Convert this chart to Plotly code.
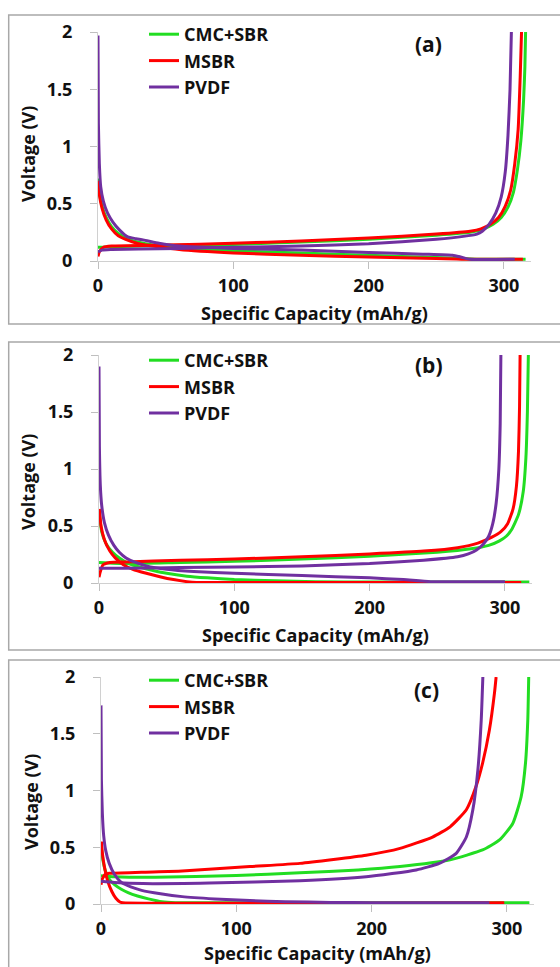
import plotly.graph_objects as go

# ---------------- DATA ----------------
series_names = ["CMC+SBR", "MSBR", "PVDF"]
series_colors = ["#22dd22", "#ff0000", "#7030a0"]
panel_labels = ["(a)", "(b)", "(c)"]
x_title = "Specific Capacity (mAh/g)"
y_title = "Voltage (V)"
x_ticks = [0, 100, 200, 300]
y_ticks = [0, 0.5, 1, 1.5, 2]
y_ticktext = ["0", "0.5", "1", "1.5", "2"]

# Panel (a)
a_cmc_dis_cap = [0.3, 1, 3, 6, 10, 15, 22, 35, 60, 100, 150, 200, 250, 270, 280, 290, 316]
a_cmc_dis_v = [0.72, 0.6, 0.48, 0.38, 0.3, 0.24, 0.19, 0.15, 0.115, 0.09, 0.07, 0.05, 0.03, 0.02, 0.015, 0.015, 0.015]
a_cmc_ch_cap = [0, 3, 10, 50, 100, 150, 200, 250, 275, 285, 292, 298, 303, 307, 310, 312.5, 314.5, 315.5, 316]
a_cmc_ch_v = [0.12, 0.12, 0.125, 0.135, 0.145, 0.165, 0.19, 0.225, 0.25, 0.28, 0.32, 0.38, 0.47, 0.6, 0.8, 1.05, 1.4, 1.7, 2.0]

a_msbr_dis_cap = [0.3, 1, 3, 6, 10, 15, 20, 30, 60, 100, 150, 200, 250, 265, 272, 314]
a_msbr_dis_v = [0.7, 0.58, 0.46, 0.36, 0.28, 0.22, 0.19, 0.15, 0.1, 0.07, 0.05, 0.035, 0.022, 0.017, 0.015, 0.015]
a_msbr_ch_cap = [0, 1, 4, 10, 50, 100, 150, 200, 250, 275, 283, 290, 296, 301, 305, 308, 310.5, 312, 313]
a_msbr_ch_v = [0.04, 0.08, 0.12, 0.13, 0.14, 0.155, 0.175, 0.2, 0.235, 0.26, 0.28, 0.32, 0.38, 0.48, 0.62, 0.85, 1.15, 1.6, 2.0]

a_pvdf_dis_cap = [0, 0.3, 1, 2, 4, 7, 11, 16, 22, 28, 35, 45, 60, 100, 150, 200, 240, 262, 268, 275, 308]
a_pvdf_dis_v = [1.97, 1.2, 0.85, 0.65, 0.52, 0.42, 0.34, 0.27, 0.21, 0.195, 0.18, 0.155, 0.13, 0.11, 0.095, 0.075, 0.06, 0.05, 0.035, 0.015, 0.015]
a_pvdf_ch_cap = [0, 3, 10, 30, 60, 100, 150, 200, 250, 270, 280, 284, 289, 294, 298, 301, 303, 304.5, 305.5]
a_pvdf_ch_v = [0.08, 0.095, 0.1, 0.105, 0.11, 0.12, 0.13, 0.15, 0.19, 0.215, 0.235, 0.26, 0.32, 0.42, 0.56, 0.78, 1.1, 1.5, 2.0]

# Panel (b)
b_cmc_dis_cap = [0.3, 2, 5, 10, 15, 22, 30, 40, 50, 65, 80, 100, 130, 160, 200, 318]
b_cmc_dis_v = [0.6, 0.45, 0.35, 0.27, 0.22, 0.17, 0.14, 0.11, 0.085, 0.06, 0.045, 0.03, 0.02, 0.012, 0.008, 0.008]
b_cmc_ch_cap = [0, 20, 60, 100, 150, 200, 250, 275, 288, 296, 301, 305, 310, 313.5, 315.5, 316.6, 317.3]
b_cmc_ch_v = [0.18, 0.17, 0.18, 0.19, 0.21, 0.235, 0.27, 0.3, 0.33, 0.37, 0.41, 0.47, 0.6, 0.8, 1.1, 1.5, 2.0]

b_msbr_dis_cap = [0.3, 1.5, 4, 8, 12, 18, 25, 35, 45, 55, 65, 72, 312]
b_msbr_dis_v = [0.65, 0.5, 0.38, 0.28, 0.22, 0.16, 0.12, 0.085, 0.055, 0.03, 0.012, 0.005, 0.005]
b_msbr_ch_cap = [0, 1, 3, 8, 20, 60, 100, 150, 200, 240, 265, 280, 290, 297, 302, 306, 308.5, 310, 310.8, 311.2]
b_msbr_ch_v = [0.05, 0.1, 0.16, 0.18, 0.185, 0.2, 0.21, 0.23, 0.255, 0.28, 0.31, 0.35, 0.4, 0.45, 0.52, 0.65, 0.85, 1.15, 1.55, 2.0]

b_pvdf_dis_cap = [0, 0.3, 1, 2, 4, 7, 11, 15, 20, 27, 35, 50, 70, 100, 150, 200, 225, 245, 300]
b_pvdf_dis_v = [1.9, 1.2, 0.85, 0.68, 0.53, 0.42, 0.33, 0.27, 0.22, 0.18, 0.15, 0.12, 0.1, 0.085, 0.065, 0.045, 0.03, 0.012, 0.012]
b_pvdf_ch_cap = [0, 20, 60, 100, 150, 200, 240, 265, 273, 279, 284, 288, 291, 293.5, 295.5, 296.5, 297]
b_pvdf_ch_v = [0.13, 0.13, 0.135, 0.14, 0.15, 0.17, 0.2, 0.23, 0.255, 0.29, 0.34, 0.41, 0.52, 0.7, 1.0, 1.4, 2.0]

# Panel (c)
c_cmc_dis_cap = [0.3, 1.5, 3, 6, 10, 15, 20, 27, 35, 45, 55, 316.6]
c_cmc_dis_v = [0.5, 0.38, 0.3, 0.22, 0.17, 0.13, 0.1, 0.07, 0.045, 0.02, 0.012, 0.012]
c_cmc_ch_cap = [0, 10, 40, 100, 147, 190, 221, 258, 282, 294.5, 304.3, 310.5, 313.7, 315.4, 316.1]
c_cmc_ch_v = [0.25, 0.24, 0.235, 0.25, 0.275, 0.3, 0.33, 0.39, 0.476, 0.564, 0.71, 0.945, 1.24, 1.62, 2.0]

c_msbr_dis_cap = [0.3, 1, 2.5, 5, 8, 11, 14, 16, 298]
c_msbr_dis_v = [0.55, 0.45, 0.33, 0.2, 0.11, 0.05, 0.018, 0.012, 0.012]
c_msbr_ch_cap = [0, 1, 3, 6, 30, 60, 110, 147, 196, 221, 245, 258, 270, 277, 282, 287, 290.8, 292]
c_msbr_ch_v = [0.17, 0.22, 0.26, 0.27, 0.28, 0.29, 0.33, 0.358, 0.43, 0.49, 0.59, 0.68, 0.83, 1.03, 1.24, 1.53, 1.86, 2.0]

c_pvdf_dis_cap = [0, 0.3, 1, 2, 3.5, 6, 10, 15, 22, 30, 44, 60, 84, 110, 136, 170, 200, 287]
c_pvdf_dis_v = [1.75, 1.1, 0.8, 0.6, 0.47, 0.36, 0.26, 0.19, 0.15, 0.12, 0.09, 0.065, 0.045, 0.03, 0.02, 0.014, 0.012, 0.012]
c_pvdf_ch_cap = [0, 10, 31, 80, 147, 196, 233, 250, 262.5, 270, 274.8, 278.5, 281, 282.2]
c_pvdf_ch_v = [0.2, 0.19, 0.18, 0.185, 0.205, 0.24, 0.3, 0.358, 0.446, 0.59, 0.83, 1.18, 1.62, 2.0]

panels = [
    [(a_cmc_dis_cap, a_cmc_dis_v, a_cmc_ch_cap, a_cmc_ch_v),
     (a_msbr_dis_cap, a_msbr_dis_v, a_msbr_ch_cap, a_msbr_ch_v),
     (a_pvdf_dis_cap, a_pvdf_dis_v, a_pvdf_ch_cap, a_pvdf_ch_v)],
    [(b_cmc_dis_cap, b_cmc_dis_v, b_cmc_ch_cap, b_cmc_ch_v),
     (b_msbr_dis_cap, b_msbr_dis_v, b_msbr_ch_cap, b_msbr_ch_v),
     (b_pvdf_dis_cap, b_pvdf_dis_v, b_pvdf_ch_cap, b_pvdf_ch_v)],
    [(c_cmc_dis_cap, c_cmc_dis_v, c_cmc_ch_cap, c_cmc_ch_v),
     (c_msbr_dis_cap, c_msbr_dis_v, c_msbr_ch_cap, c_msbr_ch_v),
     (c_pvdf_dis_cap, c_pvdf_dis_v, c_pvdf_ch_cap, c_pvdf_ch_v)],
]

# ---------------- LAYOUT GEOMETRY (page pixels) ----------------
W, H = 560, 967
FONT = "Open Sans"
TXT = "#111111"


def px(x):
    return x / W


def py(y):
    return 1 - y / H


x_domains = [[98, 531], [99, 532], [101, 534]]
y_domains = [[261, 32], [583, 355], [904, 677]]
box_tops = [15, 342, 660]
box_bottoms = [324, 650, 1000]
legend_tops = [16, 342, 662]
label_pos = [(428, 44), (429, 365), (426, 690)]
xtitle_pos = [(314, 313), (315, 635), (317, 953)]
ytitle_pos = [(28, 154), (28, 482), (31, 802)]

fig = go.Figure()

for p, series in enumerate(panels):
    xa = "x" if p == 0 else f"x{p + 1}"
    ya = "y" if p == 0 else f"y{p + 1}"
    lg = "legend" if p == 0 else f"legend{p + 1}"
    for s, (dc, dv, cc, cv) in enumerate(series):
        xs = list(dc) + [None] + list(cc)
        ys = list(dv) + [None] + list(cv)
        fig.add_trace(go.Scatter(
            x=xs, y=ys, mode="lines", name=series_names[s],
            line=dict(color=series_colors[s], width=3, shape="spline", smoothing=0.5),
            xaxis=xa, yaxis=ya, legend=lg, connectgaps=False,
        ))

axis_common = dict(
    automargin=False,
    showgrid=False, zeroline=False, showline=True, linecolor="#d0d0d0", linewidth=1,
    ticks="outside", ticklen=7, tickcolor="#bfbfbf", tickwidth=1,
    tickfont=dict(family=FONT, size=18, color=TXT, weight="bold"),
)

layout = dict(
    width=W, height=H, margin=dict(l=0, r=0, t=0, b=0, pad=0), autosize=False,
    paper_bgcolor="white", plot_bgcolor="white", showlegend=True,
    shapes=[], annotations=[],
)

for p in range(3):
    sx = "" if p == 0 else str(p + 1)
    layout["xaxis" + sx] = dict(
        axis_common, domain=[px(x_domains[p][0]), px(x_domains[p][1])], range=[0, 320],
        anchor="y" + sx, tickvals=x_ticks, ticklabelstandoff=1,
    )
    layout["yaxis" + sx] = dict(
        axis_common, domain=[py(y_domains[p][0]), py(y_domains[p][1])], range=[0, 2],
        anchor="x" + sx, tickvals=y_ticks, ticktext=y_ticktext, ticklabelstandoff=14,
    )
    layout["legend" if p == 0 else f"legend{p + 1}"] = dict(
        x=px(144), y=py(legend_tops[p]), xanchor="left", yanchor="top",
        bgcolor="rgba(0,0,0,0)", traceorder="normal",
        font=dict(family=FONT, size=18, color=TXT, weight="bold"),
    )
    layout["shapes"].append(dict(
        type="rect", xref="paper", yref="paper",
        x0=px(8.7), x1=1.05, y0=py(box_bottoms[p]), y1=py(box_tops[p]),
        line=dict(color="#a8a8a8", width=1.5), fillcolor="rgba(0,0,0,0)", layer="below",
    ))
    lx, ly = label_pos[p]
    layout["annotations"].append(dict(
        text=panel_labels[p], xref="paper", yref="paper", x=px(lx), y=py(ly),
        xanchor="center", yanchor="middle", showarrow=False,
        font=dict(family=FONT, size=21, color=TXT, weight="bold"),
    ))
    tx, ty = xtitle_pos[p]
    layout["annotations"].append(dict(
        text=x_title, xref="paper", yref="paper", x=px(tx), y=py(ty),
        xanchor="center", yanchor="middle", showarrow=False,
        font=dict(family=FONT, size=18, color=TXT, weight="bold"),
    ))
    vx, vy = ytitle_pos[p]
    layout["annotations"].append(dict(
        text=y_title, xref="paper", yref="paper", x=px(vx), y=py(vy), textangle=-90,
        xanchor="center", yanchor="middle", showarrow=False,
        font=dict(family=FONT, size=18, color=TXT, weight="bold"),
    ))

fig.update_layout(**layout)
fig.write_html("out.html", config={"displayModeBar": False},
               post_script="document.body.style.margin='0px';")
